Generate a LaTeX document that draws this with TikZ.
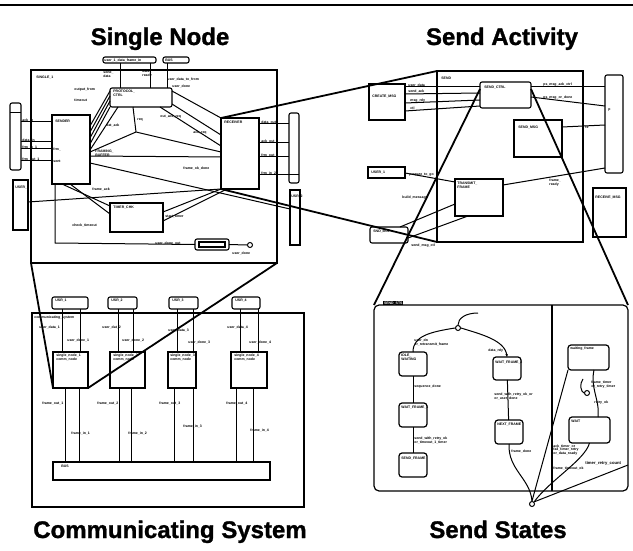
\documentclass[tikz,border=0pt]{standalone}
\usepackage{fontspec}
\setmainfont{Liberation Sans}
\newfontfamily\ttlfont[BoldFeatures={FakeBold=1.2}]{Liberation Sans}
\usetikzlibrary{arrows.meta}
\newcommand\mkbox[6]{\node[#2, anchor=north west, inner sep=0pt, outer sep=0pt, minimum width={(#5-#3)*1pt}, minimum height={(#6-#4)*1pt}] (#1) at (#3,#4) {};}
\begin{document}
\begin{tikzpicture}[x=1pt,y=-1pt,
 bx/.style={draw, line width=1.1pt},
 rbx/.style={draw, line width=1.1pt, rounded corners=2pt},
 sbx/.style={draw, line width=1.2pt, rounded corners=3pt},
 ln/.style={line width=1pt},
 zl/.style={line width=1.8pt},
 lbl/.style={font=\fontsize{3.5}{3.9}\selectfont\bfseries, inner sep=0.2pt, anchor=west, align=left},
 ttl/.style={font=\ttlfont\fontsize{24}{28}\selectfont\bfseries, anchor=base, inner sep=0pt},
 jn/.style={circle, draw, line width=1pt, minimum size=5pt, inner sep=0pt, fill=white}]
\useasboundingbox (0,0) rectangle (633,551);
\fill[white] (0,0) rectangle (633,551);
\coordinate (rl) at (0,5); \coordinate (rr) at (633,5);
\draw[line width=2pt] (rl) -- (rr);

% titles
\node[ttl] (t1) at (160,45) {Single Node};
\node[ttl] (t2) at (502,45) {Send Activity};
\node[ttl] (t3) at (170,538) {Communicating System};
\node[ttl] (t4) at (498,538) {Send States};

% ================= Single Node =================
\mkbox{SN}{bx}{31}{70}{277}{263}
\mkbox{SNu1}{rbx}{103}{57}{156}{63}
\mkbox{SNu2}{rbx}{163}{57}{189}{63}
\mkbox{SNt}{rbx}{110}{88}{172}{107}
\mkbox{SNl}{bx}{52}{115}{90}{184}
\mkbox{SNr}{bx}{221}{118}{259}{189}
\mkbox{SNb}{bx}{110}{203}{163}{232}
\mkbox{SNs}{rbx}{195}{239}{229}{250}
\node[jn] (SNc) at (250,245) {};
\mkbox{SNo1}{rbx}{10}{103}{21}{170}
\mkbox{SNo2}{bx}{13}{180}{28}{230}
\mkbox{SNo3}{rbx}{289}{113}{299}{183}
\mkbox{SNo4}{bx}{290}{190}{300}{245}
\draw[ln] (SNo1.west |- 0,113) -- (SNo1.east |- 0,113);
\draw[ln] (SNo3.west |- 0,175) -- (SNo3.east |- 0,175);
\mkbox{SNsi}{draw, line width=1.4pt}{199}{242}{225}{247}

\draw[ln] (SNu1.south -| 120,0) -- (SNt.north -| 120,0);
\draw[ln] (SNu1.south -| 150,0) -- (SNt.north -| 150,0);
\draw[ln] (SNu2.south -| 167,0) -- (SNt.north -| 167,0);
\foreach \yy in {122,142,149,161} \draw[ln] (SNo1.east |- 0,\yy) -- (SNl.west |- 0,\yy);
\foreach \yy in {124,143,157,175} \draw[ln] (SNr.east |- 0,\yy) -- (SNo3.west |- 0,\yy);
\draw[ln] (SNt.west |- 0,91) -- (SNl.east |- 0,126);
\draw[ln] (SNt.west |- 0,96) -- (SNl.east |- 0,132);
\draw[ln] (SNt.west |- 0,101) -- (SNl.east |- 0,138);
\draw[ln] (SNt.south west) -- (SNl.east |- 0,144);
\draw[ln] (SNt.south -| 118,0) -- (SNl.east |- 0,150);
\draw[ln] (SNt.east |- 0,91) -- (SNr.north west);
\draw[ln] (SNt.east |- 0,104) -- (SNr.west |- 0,135);
\draw[ln] (SNt.south -| 160,0) -- (SNr.west |- 0,146);
\coordinate (k1) at (136,132);
\draw[ln] (SNt.south -| 133,0) -- (k1);
\draw[ln] (SNl.east |- 0,152) -- (k1) -- (SNr.west |- 0,152);
\draw[ln] (SNl.east |- 0,156) -- (SNr.west |- 0,157);
\draw[ln] (SNl.east |- 0,163) -- (SNo4.west |- 0,209);
\draw[ln] (SNo2.east |- 0,202) -- (SNr.south west);
\draw[ln] (SNl.south -| 62,0) -- (SNb.west |- 0,206);
\draw[ln] (SNl.south -| 70,0) -- (SNb.west |- 0,214);
\draw[ln] (SNr.south west) -- (SNb.east |- 0,212);
\draw[ln] (SNr.south -| 227,0) -- (SNb.east |- 0,221);
\coordinate (lc) at (55,243);
\draw[ln] (SNl.south -| 55,0) -- (lc) -- (SNs.west);
\draw[ln] (SNs.east) -- (SNc.west);

\node[lbl] (a1) at (36,77) {SINGLE\_1};
\node[lbl] (a2) at (104,60) {user\_1\_data\_frame\_in};
\node[lbl] (a3) at (165,60) {BUS};
\node[lbl] (a4) at (103,74) {send\_\\data};
\node[lbl] (a5) at (142,74) {data\_\\ready};
\node[lbl] (a6) at (167,79) {user\_data\_to\_from};
\node[lbl] (a7) at (172,86) {user\_done};
\node[lbl] (a8) at (74,90) {output\_from};
\node[lbl] (a9) at (74,100) {timeout};
\node[lbl] (a10) at (113,93) {PROTOCOL\_\\CTRL};
\node[lbl] (a11) at (55,121) {SENDER};
\node[lbl] (a12) at (224,122) {RECEIVER};
\node[lbl] (a13) at (22,120) {ack\_in};
\node[lbl] (a14) at (22,140) {data\_in};
\node[lbl] (a15) at (22,147) {frm\_in\_1};
\node[lbl] (a16) at (22,159) {frm\_out\_1};
\node[lbl] (a17) at (53,149) {frm\_};
\node[lbl] (a18) at (53,161) {sent};
\node[lbl] (a19) at (261,122) {data\_out};
\node[lbl] (a20) at (261,141) {ack\_out};
\node[lbl] (a21) at (261,155) {frm\_out\_2};
\node[lbl] (a22) at (261,173) {frm\_in\_2};
\node[lbl] (a23) at (160,117) {out\_ack\_req};
\node[lbl] (a24) at (193,133) {ack\_req};
\node[lbl] (a25) at (106,125) {dat\_ack};
\node[lbl] (a26) at (137,120) {req};
\node[lbl] (a27) at (95,153) {FRAMING\_\\BUFFER};
\node[lbl] (a28) at (183,168) {frame\_ok\_done};
\node[lbl] (a29) at (92,189) {frame\_ack};
\node[lbl] (a30) at (113,207) {TIMER\_CHK};
\node[lbl] (a31) at (72,225) {check\_timeout};
\node[lbl] (a32) at (165,216) {start\_timer};
\node[lbl] (a33) at (155,243) {user\_done\_out};
\node[lbl] (a34) at (232,253) {user\_done};
\node[lbl] (a35) at (15,187) {USER\_1};
\node[lbl] (a36) at (291,196) {USR\_2};

% ================= Send Activity =================
\mkbox{SA}{bx}{437}{71}{583}{242}
\mkbox{SAt}{rbx}{480}{82}{531}{108}
\mkbox{SAl1}{bx}{369}{84}{405}{120}
\mkbox{SAr1}{bx}{514}{120}{562}{157}
\mkbox{SAo1}{rbx}{605}{75}{623}{173}
\mkbox{SAl2}{bx}{368}{167}{405}{178}
\mkbox{SAm}{bx}{455}{179}{503}{216}
\mkbox{SAo2}{bx}{593}{188}{626}{237}
\mkbox{SAb}{rbx}{370}{227}{408}{243}

\draw[ln] (SAl1.east |- 0,87) -- (SAt.west |- 0,87);
\draw[ln] (SAl1.east |- 0,94) -- (SAt.west |- 0,93);
\draw[ln] (SAl1.east |- 0,103) -- (SAt.west |- 0,100);
\draw[ln] (SAl1.east |- 0,111) -- (SAt.west |- 0,106);
\draw[ln] (SAt.east |- 0,87) -- (SAo1.west |- 0,87);
\draw[ln] (SAt.east |- 0,97) -- (SAo1.west |- 0,106);
\draw[ln] (SAr1.east |- 0,127) -- (SAo1.west |- 0,125);
\draw[ln] (SAm.east |- 0,185) -- (SAo1.west |- 0,168);
\draw[ln] (SAl2.east |- 0,173) -- (SAm.west |- 0,182);
\draw[ln] (SAm.west |- 0,204) -- (SAb.north -| 400,0);
\draw[ln] (SAm.south -| 468,0) -- (SAb.east |- 0,238);

\node[lbl] (b1) at (441,78) {SEND};
\node[lbl] (b2) at (484,87) {SEND\_CTRL};
\node[lbl] (b3) at (372,96) {CREATE\_MSG};
\node[lbl] (b4) at (408,85) {user\_data};
\node[lbl] (b5) at (408,91) {send\_ack};
\node[lbl] (b6) at (410,101) {msg\_rdy};
\node[lbl] (b7) at (410,108) {ctl};
\node[lbl] (b8) at (543,85) {ps\_msg\_ack\_ctrl};
\node[lbl] (b9) at (543,98) {ps\_msg\_or\_done};
\node[lbl] (b10) at (518,127) {SEND\_MSG};
\node[lbl] (b11) at (585,127) {tx};
\node[lbl] (b12) at (608,110) {p};
\node[lbl] (b13) at (371,172) {USER\_1};
\node[lbl] (b14) at (409,175) {prepare\_to\_go};
\node[lbl] (b15) at (457,185) {TRANSMIT\_\\FRAME};
\node[lbl] (b16) at (402,198) {build\_message};
\node[lbl] (b17) at (549,183) {frame\_\\ready};
\node[lbl] (b18) at (595,197) {RECEIVE\_MSG};
\node[lbl] (b19) at (373,231) {SND\_BUF};
\node[lbl] (b20) at (411,246) {send\_msg\_ctl};

% ================= Send States =================
\mkbox{SS}{draw, line width=1.2pt, rounded corners=5pt}{374}{305}{628}{491}
\node[fill=black, text=white, font=\fontsize{3.5}{4}\selectfont\bfseries, inner sep=0.8pt, anchor=south west] (tab) at (383,305.5) {SEND\_STS};
\draw[ln, line width=1.1pt] (SS.north -| 552,0) -- (SS.south -| 552,0);
\mkbox{A}{sbx}{399}{352}{427}{376}
\mkbox{B}{sbx}{399}{403}{427}{427}
\mkbox{C}{sbx}{399}{453}{427}{477}
\mkbox{D}{sbx}{493}{357}{521}{380}
\mkbox{E}{sbx}{495}{420}{523}{444}
\mkbox{F}{sbx}{568}{345}{609}{370}
\mkbox{G}{sbx}{569}{417}{610}{443}
\coordinate (s0) at (478,313);
\node[jn] (J1) at (458,328) {};
\draw[ln] (s0) .. controls (466,313) and (458,318) .. (J1.north);
\draw[ln] (J1.west) .. controls (430,332) and (413,336) .. (A.north);
\draw[ln, -{Stealth[length=3pt,width=2.5pt]}] (J1.east) .. controls (480,334) and (505,340) .. (D.north);
\draw[ln] (A) -- (B); \draw[ln] (B) -- (C); \draw[ln] (D) -- (E);
\node[jn] (J2) at (532,504) {};
\draw[ln] (E.south) .. controls (508,470) and (530,478) .. (J2.north);
\draw[ln] (J2.north) -- (F.south west);
\draw[ln] (J2.north east) .. controls (550,480) and (585,460) .. (G.south);
\coordinate (ex) at (628,465);
\draw[ln] (J2.north east) -- (ex);
\draw[ln] (F.south -| 594,0) .. controls (590,388) and (600,400) .. (G.north -| 598,0);
\node[jn] (J3) at (587,393) {};
\coordinate (h1) at (583,379);
\draw[ln] (J3.west) .. controls (581,392) and (579,384) .. (h1);

\node[lbl] (c1) at (414,342) {user\_dn\\or\_retransmit\_frame};
\node[lbl] (c2) at (488,351) {data\_rdy};
\node[lbl] (c3) at (401,357) {IDLE\_\\WAITING};
\node[lbl] (c4) at (414,387) {sequence\_done};
\node[lbl] (c5) at (401,408) {WAIT\_FRAME\_1};
\node[lbl] (c6) at (414,440) {send\_with\_retry\_ok\\or\_timeout\_1\_timer};
\node[lbl] (c7) at (401,458) {SEND\_FRAME};
\node[lbl] (c8) at (495,362) {WAIT\_FRAME\_2};
\node[lbl] (c9) at (494,396) {send\_with\_retry\_ok\_or\\or\_user\_done};
\node[lbl] (c10) at (497,425) {NEXT\_FRAME};
\node[lbl] (c11) at (511,451) {frame\_done};
\node[lbl] (c12) at (570,349) {waiting\_frame};
\node[lbl] (c13) at (591,385) {frame\_timer\\or\_retry\_timer};
\node[lbl] (c14) at (594,403) {retry\_ok};
\node[lbl] (c15) at (571,421) {WAIT};
\node[lbl] (c16) at (553,450) {ack\_timer\_or\\fail\_timer\_retry\\or\_data\_ready};
\node[lbl] (c17) at (553,468) {frame\_timeout\_ok};
\node[lbl, font=\fontsize{4.2}{4.5}\selectfont\bfseries] (c18) at (585,463) {timer\_retry\_count};

% ================= Communicating System =================
\mkbox{CS}{bx}{32}{313}{304}{507}
\mkbox{U1}{rbx}{52}{297}{88}{309}
\mkbox{U2}{rbx}{108}{297}{137}{309}
\mkbox{U3}{rbx}{169}{297}{198}{309}
\mkbox{U4}{rbx}{232}{297}{260}{309}
\mkbox{N1}{bx}{53}{352}{88}{388}
\mkbox{N2}{bx}{110}{352}{145}{388}
\mkbox{N3}{bx}{168}{352}{196}{388}
\mkbox{N4}{bx}{231}{352}{267}{388}
\mkbox{BUS}{bx}{53}{462}{270}{480}
\foreach \u/\n/\xa/\xb in {U1/N1/62/80, U2/N2/118/133, U3/N3/177/193, U4/N4/240/258} {
  \draw[ln] (\u.south -| \xa,0) -- (\n.north -| \xa,0);
  \draw[ln] (\u.south -| \xb,0) -- (\n.north -| \xb,0);
}
\foreach \n/\xa/\xb in {N1/65/79, N2/119/131, N3/174/193, N4/236/253} {
  \draw[ln] (\n.south -| \xa,0) -- (BUS.north -| \xa,0);
  \draw[ln] (\n.south -| \xb,0) -- (BUS.north -| \xb,0);
}
\node[lbl] (d1) at (55,300) {USR\_1};
\node[lbl] (d2) at (111,300) {USR\_2};
\node[lbl] (d3) at (172,300) {USR\_3};
\node[lbl] (d4) at (235,300) {USR\_4};
\node[lbl] (d5) at (34,318) {communicating\_system};
\node[lbl] (d6) at (39,327) {user\_data\_1};
\node[lbl] (d7) at (67,340) {user\_done\_1};
\node[lbl] (d8) at (102,327) {user\_dat\_2};
\node[lbl] (d9) at (122,340) {user\_done\_2};
\node[lbl] (d10) at (168,330) {user\_data\_3};
\node[lbl] (d11) at (188,342) {user\_done\_3};
\node[lbl] (d12) at (227,327) {user\_data\_4};
\node[lbl] (d13) at (249,342) {user\_done\_4};
\node[lbl] (d14) at (56,357) {single\_node\_1\\comm\_node};
\node[lbl] (d15) at (113,357) {single\_node\_2\\comm\_node};
\node[lbl] (d16) at (170,357) {single\_node\_3\\comm\_node};
\node[lbl] (d17) at (234,357) {single\_node\_4\\comm\_node};
\node[lbl] (d18) at (42,403) {frame\_out\_1};
\node[lbl] (d19) at (71,433) {frame\_in\_1};
\node[lbl] (d20) at (97,403) {frame\_out\_2};
\node[lbl] (d21) at (128,433) {frame\_in\_2};
\node[lbl] (d22) at (159,403) {frame\_out\_3};
\node[lbl] (d23) at (183,426) {frame\_in\_3};
\node[lbl] (d24) at (226,403) {frame\_out\_4};
\node[lbl] (d25) at (250,430) {frame\_in\_4};
\node[lbl] (d26) at (61,466) {BUS};

% ================= zoom lines =================
\draw[zl] (SNr.north west) -- (SA.north west);
\draw[zl] (SNr.south west) -- (SA.south west);
\draw[zl] (SN.south west) -- (N1.south west);
\draw[zl] (SN.south east) -- (N1.south east);
\draw[zl] (SAt.west |- 0,89) -- (SS.north west);
\draw[zl] (SAt.east |- 0,89) -- (SS.north east);
\end{tikzpicture}
\end{document}
